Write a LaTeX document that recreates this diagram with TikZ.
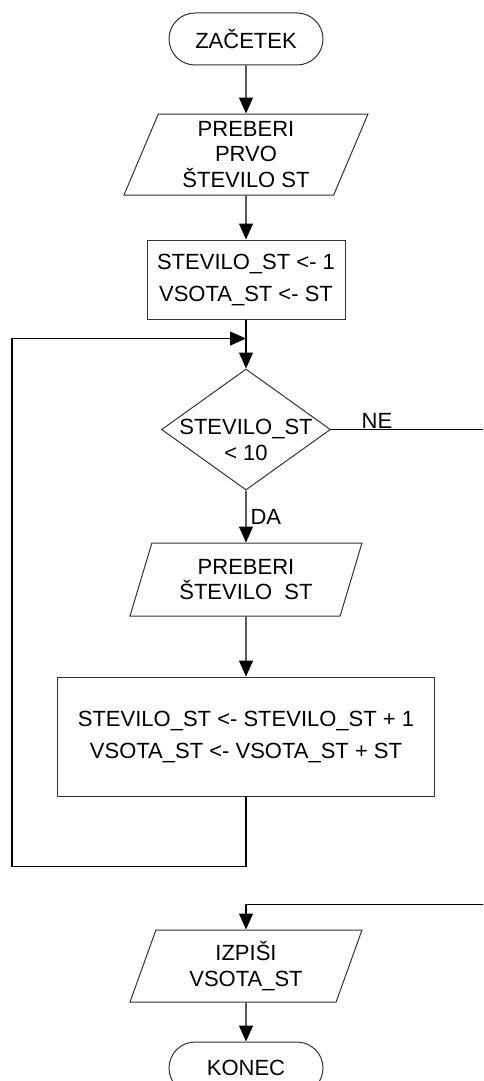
\documentclass[tikz,border=0pt]{standalone}
\usepackage{fontspec}
\setmainfont{Liberation Sans}
\usetikzlibrary{arrows.meta,positioning,shapes.geometric,calc}

\begin{document}
\begin{tikzpicture}[
    terminal/.style={draw, rounded corners=13pt, minimum width=77pt, minimum height=26pt, inner sep=1pt, font=\fontsize{11}{13}\selectfont},
    io/.style={draw, trapezium, trapezium left angle=64, trapezium right angle=116, trapezium stretches body, inner sep=1pt, align=center, font=\fontsize{11}{12.75}\selectfont},
    block/.style={draw, minimum width=99pt, minimum height=39.5pt, inner sep=1pt, align=center, font=\fontsize{11}{16}\selectfont},
    decision/.style={draw, diamond, minimum width=84.5pt, minimum height=60.5pt, inner sep=0pt},
    label/.style={draw=none, font=\fontsize{11}{13}\selectfont},
    arrow/.style={-{Triangle[length=8pt, width=7pt]}, line width=0.6pt},
    every node/.append style={line width=0.5pt, draw=black!80}
]
    \useasboundingbox (0,0) rectangle (241.5pt,-540.5pt);
    \clip (0,0) rectangle (241.5pt,-540.5pt);

    % Blocks
    \node[terminal] (start) at (123pt,-19.5pt) {ZAČETEK};
    \node[io, minimum width=122pt, minimum height=40.5pt, below=24pt of start] (read1) {PREBERI\\PRVO\\ŠTEVILO ST};
    \node[block, below=22pt of read1] (init) {STEVILO\_ST <- 1\\VSOTA\_ST <- ST};
    \node[decision, below=24.5pt of init] (dec) {};
    \node[label, align=center] (dectext) at ([yshift=-5pt]dec.center) {STEVILO\_ST\\< 10};
    \node[io, minimum width=116pt, minimum height=36.5pt, below=26pt of dec] (read2) {PREBERI\\ŠTEVILO~~ST};
    \node[block, minimum width=188.5pt, minimum height=59.5pt, below=30pt of read2] (upd) {STEVILO\_ST <- STEVILO\_ST + 1\\VSOTA\_ST <- VSOTA\_ST + ST};
    \node[io, minimum width=116pt, minimum height=36pt, below=66.5pt of upd] (out) {IZPIŠI\\VSOTA\_ST};
    \node[terminal, below=19.5pt of out] (stop) {KONEC};

    % Helper points
    \coordinate (loopjoin) at ([yshift=-9.5pt]init.south);
    \coordinate (loopbot) at ([yshift=-35pt]upd.south);
    \coordinate (loopleft) at ([xshift=-117pt]loopbot);
    \coordinate (neright) at ([xshift=82pt]dec.east);
    \coordinate (outjoin) at ([yshift=12.5pt]out.north);

    % Forward arrows
    \draw[arrow] (start) -- (read1);
    \draw[arrow] (read1) -- (init);
    \draw[arrow] (init) -- (dec);
    \draw[arrow] (dec) -- node[label, right, pos=0.5, inner sep=2pt] {DA} (read2);
    \draw[arrow] (read2) -- (upd);
    \draw[arrow] (out) -- (stop);

    % Loop back
    \draw[arrow] (upd.south) -- (loopbot) -- (loopleft) |- (loopjoin);

    % Exit branch
    \draw[arrow] (dec.east) -- node[label, pos=0.28, above, inner sep=0.5pt] {NE} (neright) |- (outjoin) -- (out.north);
\end{tikzpicture}
\end{document}
